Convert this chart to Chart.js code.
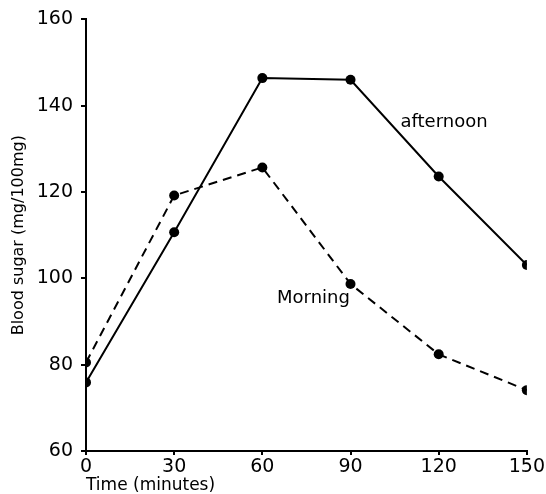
<!DOCTYPE html>
<html>
<head>
<meta charset="utf-8">
<script src="https://cdn.jsdelivr.net/npm/chart.js@4/dist/chart.umd.min.js"></script>
<style>
  html, body { margin: 0; padding: 0; background: #fff; }
  #wrap { width: 546px; height: 494px; }
</style>
</head>
<body>
<div id="wrap"><canvas id="chart"></canvas></div>
<script>
// time points (minutes) and blood sugar readings (mg/100mg)
const times = [0, 30, 60, 90, 120, 150];
const afternoon = [75.9, 110.7, 146.4, 146.0, 123.6, 103.1];
const morning = [80.5, 119.2, 125.7, 98.7, 82.4, 74.1];
const xTicks = [0, 30, 60, 90, 120, 150];
const yTicks = [60, 80, 100, 120, 140, 160];

const FONT = 'DejaVu Sans';

// series labels written next to the curves, placed in data units
const seriesLabels = [
    { text: 'afternoon', x: 107, y: 136.2 },
    { text: 'Morning', x: 65, y: 95.3 },
];

const labelPlugin = {
    id: 'seriesLabels',
    afterDatasetsDraw(chart) {
        const ctx = chart.ctx;
        const xs = chart.scales.x, ys = chart.scales.y;
        ctx.save();
        ctx.fillStyle = '#000';
        ctx.font = '18px "' + FONT + '"';
        ctx.textAlign = 'left';
        ctx.textBaseline = 'middle';
        seriesLabels.forEach(l => {
            ctx.fillText(l.text, xs.getPixelForValue(l.x), ys.getPixelForValue(l.y));
        });
        ctx.restore();
    }
};

const toPoints = vals => vals.map((v, i) => ({ x: times[i], y: v }));

new Chart(document.getElementById('chart'), {
    type: 'line',
    data: {
        datasets: [
            {
                label: 'afternoon',
                data: toPoints(afternoon),
                borderColor: '#000',
                backgroundColor: '#000',
                borderWidth: 2,
                pointRadius: 5,
                pointBorderWidth: 0,
                tension: 0,
            },
            {
                label: 'Morning',
                data: toPoints(morning),
                borderColor: '#000',
                backgroundColor: '#000',
                borderWidth: 2,
                borderDash: [9, 6],
                pointRadius: 5,
                pointBorderWidth: 0,
                tension: 0,
            },
        ],
    },
    options: {
        responsive: true,
        maintainAspectRatio: false,
        animation: false,
        layout: { padding: { top: 17, right: 17, left: 0, bottom: 0 } },
        plugins: {
            legend: { display: false },
            tooltip: { enabled: false },
        },
        scales: {
            x: {
                type: 'linear',
                min: 0,
                max: 150,
                afterBuildTicks: s => { s.ticks = xTicks.map(v => ({ value: v })); },
                afterFit: s => { s.height = 43; },
                border: { display: true, color: '#000', width: 2 },
                grid: { drawOnChartArea: false, drawTicks: true, tickLength: 4, color: '#000', lineWidth: 2 },
                ticks: { color: '#000', font: { family: FONT, size: 19 }, padding: 1, maxRotation: 0 },
                title: {
                    display: true,
                    text: 'Time (minutes)',
                    align: 'start',
                    color: '#000',
                    font: { family: FONT, size: 17, lineHeight: 1 },
                    padding: { top: 4, bottom: 0 },
                },
            },
            y: {
                min: 60,
                max: 160,
                afterBuildTicks: s => { s.ticks = yTicks.map(v => ({ value: v })); },
                afterFit: s => { s.width = 86; },
                border: { display: true, color: '#000', width: 2 },
                grid: { drawOnChartArea: false, drawTicks: true, tickLength: 5, color: '#000', lineWidth: 2 },
                ticks: { color: '#000', font: { family: FONT, size: 19 }, padding: 8 },
                title: {
                    display: true,
                    text: 'Blood sugar (mg/100mg)',
                    color: '#000',
                    font: { family: FONT, size: 16 },
                    padding: { top: 9, bottom: 0 },
                },
            },
        },
    },
    plugins: [labelPlugin],
});
</script>
</body>
</html>
